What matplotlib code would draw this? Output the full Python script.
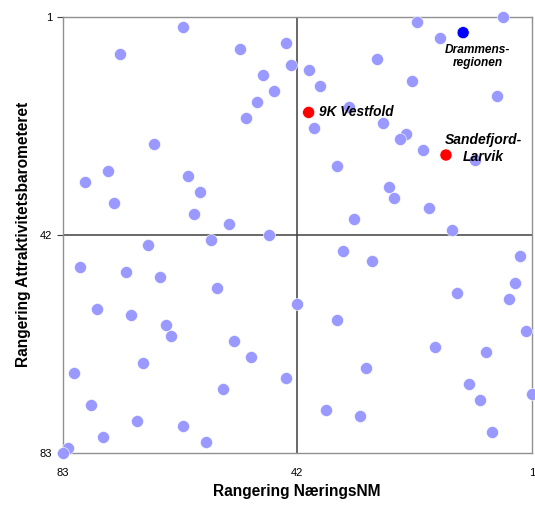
import matplotlib
matplotlib.use("Agg")
import matplotlib.pyplot as plt

plt.rcParams['font.family'] = ['Liberation Sans', 'DejaVu Sans']

# rangering NæringsNM (x) og Attraktivitetsbarometeret (y), 83 regioner
naering_nm = [
    62, 73, 52, 44, 43, 48, 46, 49, 51, 67, 75, 79, 61, 59, 74, 60, 54, 57, 47,
    6, 21, 17, 28, 40, 38, 22, 7, 33, 39, 27, 23, 24, 20, 11, 35, 26, 25, 19, 32, 15,
    68, 80, 72, 66, 56, 42, 77, 71, 65, 64, 53, 50, 69, 81, 44, 55, 78, 70, 62, 76, 58, 82, 83,
    34, 29, 3, 4, 5, 14, 35, 2, 18, 9, 30, 12, 10, 1, 37, 31, 8,
]
attraktivitet = [
    3, 8, 7, 6, 10, 12, 15, 17, 20, 25, 30, 32, 31, 34, 36, 38, 40, 43, 42,
    1, 2, 5, 9, 11, 14, 13, 16, 18, 22, 21, 23, 24, 26, 28, 29, 33, 35, 37, 39, 41,
    44, 48, 49, 50, 52, 55, 56, 57, 59, 61, 62, 65, 66, 68, 69, 71, 74, 77, 78, 80, 81, 82, 83,
    45, 47, 46, 51, 54, 53, 58, 60, 63, 64, 67, 70, 73, 72, 75, 76, 79,
]

# uthevede regioner
hl_names = ["Drammens-\nregionen", "9K Vestfold", "Sandefjord-\nLarvik"]
hl_x = [13, 40, 16]
hl_y = [4, 19, 27]
hl_colors = ["#0000FF", "#FF0000", "#FF0000"]

fig = plt.figure(figsize=(5.35, 5.05), dpi=100)
ax = fig.add_axes([0.117, 0.103, 0.877, 0.864])

ax.scatter(naering_nm, attraktivitet, s=75, color="#9999FF", edgecolors="white",
           linewidths=0.4, zorder=3, clip_on=False)
ax.scatter(hl_x, hl_y, s=75, c=hl_colors, edgecolors="white", linewidths=0.4,
           zorder=4, clip_on=False)

ax.axvline(42, color="#404040", lw=1.1, zorder=2)
ax.axhline(42, color="#404040", lw=1.1, zorder=2)

ax.set_xlim(83, 1)
ax.set_ylim(83, 1)
ax.set_xticks([83, 42, 1])
ax.set_yticks([1, 42, 83])
ax.tick_params(axis='both', labelsize=8, length=4, width=0.8, color="#404040")
ax.tick_params(axis='x', length=0, pad=11)
for s in ax.spines.values():
    s.set_color("#909090")
    s.set_linewidth(1.0)

ax.set_xlabel("Rangering NæringsNM", fontsize=11.2, fontweight='bold', labelpad=4)
ax.set_ylabel("Rangering Attraktivitetsbarometeret", fontsize=11.2, fontweight='bold',
              labelpad=6)

ax.text(10.5, 8.5, hl_names[0], fontsize=8.6, fontweight='bold', style='italic',
        ha='center', va='center', linespacing=1.2, zorder=5)
ax.text(38.2, 18.9, hl_names[1], fontsize=9.8, fontweight='bold', style='italic',
        ha='left', va='center', zorder=5)
ax.text(9.5, 25.8, hl_names[2], fontsize=10, fontweight='bold', style='italic',
        ha='center', va='center', linespacing=1.25, zorder=5)

fig.savefig("out.png", dpi=100, facecolor="white")
